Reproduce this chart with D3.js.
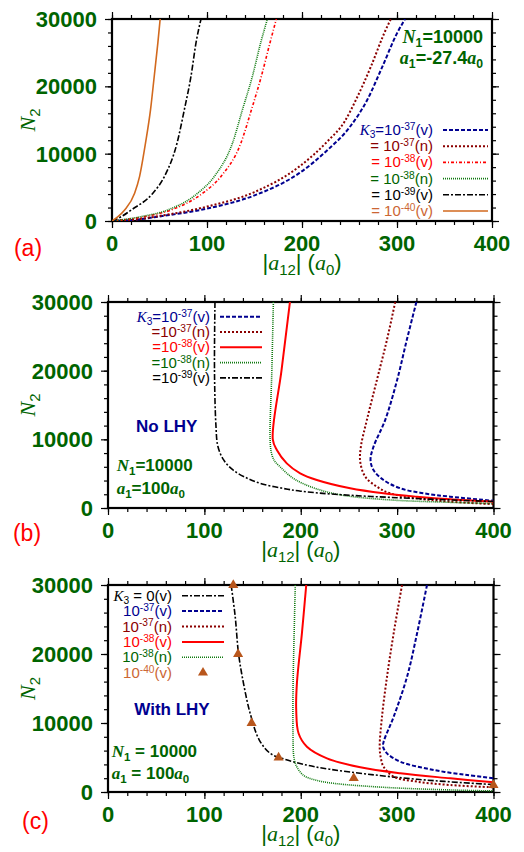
<!DOCTYPE html>
<html><head><meta charset="utf-8">
<script src="https://cdn.jsdelivr.net/npm/d3@7"></script>
<style>
body{margin:0;background:#fff;}
svg{font-family:"Liberation Sans",Arial,sans-serif;}
</style></head><body>
<svg id="chart" width="524" height="852"></svg>
<script>
var xTicks = [0,100,200,300,400];
var yTicks = [0,10000,20000,30000];

// panel (a): N1=10000, a1=-27.4a0
var a37v = [[0,0],[25,200],[50,680],[100,1840],[150,3800],[197,7100],[226.6,10500],[250,13900],[268.6,17970],[284.6,22920],[300,27870],[308.5,30000]];
var a37n = [[0,0],[25,230],[50,750],[100,2140],[150,4300],[197,8070],[226.6,11800],[245,14800],[256.7,17970],[272.5,22920],[286.5,27870],[293.5,30000]];
var a38v = [[0,0],[34.3,650],[62.2,1640],[95.5,4130],[114.7,6620],[135.7,11590],[146.9,16570],[157.3,21540],[166.4,26520],[173,30000]];
var a38n = [[0,0],[30.8,650],[58.7,1640],[90.2,4130],[107.7,6620],[126.9,11590],[137.4,16570],[147.9,21540],[156.6,26520],[163.6,30000]];
var a39v = [[0,0],[9.8,650],[20.3,1640],[43,4130],[55.2,6620],[68.5,11590],[76.2,16570],[83.2,21540],[88.5,26520],[93.7,30000]];
var a40v = [[0,0],[6.3,650],[13.3,1640],[23.8,4130],[29,6600],[35.3,11600],[40.6,16570],[44.5,21540],[48.3,26500],[50.7,30000]];

// panel (b): no LHY
var b37v = [[320,30000],[310,24460],[300,18640],[287.6,12810],[275.5,8930],[272.4,6990],[275.5,5530],[285.9,4080],[303.2,2870],[327.4,2140],[355,1650],[400,1050]];
var b37n = [[298,30000],[289.4,24460],[279,18640],[268.6,12810],[262.4,8930],[261.7,6740],[266.9,4560],[279,3100],[292.8,2140],[320.5,1410],[355,920],[400,560]];
var b38v = [[188.8,30000],[180,20000],[171,10000],[175.2,8440],[185.5,6500],[199.4,5050],[216.7,4080],[251.3,2870],[285.9,2140],[320.5,1650],[355,1260],[400,900]];
var b38n = [[171.6,30000],[170,20000],[168.2,10000],[169.6,8000],[173,6800],[178.6,6000],[186,5000],[195,4080],[214.6,2870],[242,1890],[294,1165],[350,850],[400,650]];
var b39v = [[111,30000],[110.5,20000],[112,12000],[114,9000],[120,7000],[130,5500],[145,4300],[160,3500],[180,2900],[200,2450],[240,1950],[300,1500],[350,1200],[400,950]];

// panel (c): with LHY
var c0v  = [[127.8,30000],[132,25400],[135.4,20100],[140.6,15750],[147.5,11400],[157,7530],[168.3,5600],[180,4900],[206,3900],[230,3300],[268.8,2600],[320.7,1840],[390,1160],[400,1100]];
var c37v = [[331,30000],[320.7,23000],[310.3,16700],[296.4,10900],[286,7290],[285.4,6560],[289.5,5600],[303.4,4390],[338,3190],[372.7,2460],[400,1980]];
var c37n = [[305.1,30000],[296.4,23000],[289.5,16700],[284.3,10900],[281.9,6560],[283,5000],[285.9,3670],[296.4,2220],[320.7,1500],[355.3,1010],[400,680]];
var c38v = [[205.7,30000],[201.2,23000],[196,15750],[195.3,11880],[197.7,8510],[206.4,6560],[227.2,4880],[261.8,3580],[303.4,2710],[355.3,1980],[400,1400]];
var c38n = [[194.3,30000],[193,22000],[192,15000],[192,8000],[192.5,5500],[194,4300],[196.5,3500],[203,2400],[216,1700],[234,1260],[286,680],[355,300],[400,150]];
var c40v = [[130,30000],[135,20000],[149,10000],[177,5000],[255,2000],[400,1000]];

var NAVY = "#000090", DRED = "#8b0000", RED = "#ff0000", GREEN = "#006400",
    LGREEN = "#107a10", ORANGE = "#d2691e", TRI = "#b8561c";

var styles = {
  v37: {color: NAVY, dash: "4,2", w: 2},
  n37: {color: DRED, dash: "2,2", w: 2},
  v38a: {color: RED, dash: "3,2,1,2", w: 1.6},
  v38: {color: RED, dash: null, w: 2},
  n38: {color: LGREEN, dash: "1,1", w: 1.6},
  v39: {color: "#000", dash: "6,2,2,2", w: 1.6},
  v40: {color: ORANGE, dash: null, w: 1.6},
  v0: {color: "#000", dash: "6,2,2,2", w: 1.6}
};

var svg = d3.select("#chart");

function rich(sel, segs, size) {
  var shift = 0;
  segs.forEach(function (s) {
    var kind = s[1] || "";
    var target = kind == "sub" ? size * 0.22 : kind == "sup" ? -size * 0.34 : 0;
    var ts = sel.append("tspan").text(s[0]).attr("dy", target - shift);
    shift = target;
    if (kind == "sub" || kind == "sup") ts.attr("font-size", size * 0.68);
    if (kind == "i") ts.attr("font-family", "Liberation Serif, serif").attr("font-style", "italic");
  });
}

function panel(p) {
  var x = d3.scaleLinear().domain([0, 400]).range([p.left, p.right]);
  var y = d3.scaleLinear().domain([0, 30000]).range([p.bottom, p.top]);
  var g = svg.append("g");

  var clipId = "clip" + p.name;
  g.append("clipPath").attr("id", clipId).append("rect")
    .attr("x", p.left).attr("y", p.top)
    .attr("width", p.right - p.left).attr("height", p.bottom - p.top);

  // ticks on all four sides, pointing out
  var minorX = d3.range(0, 401, 20), minorY = d3.range(0, 30001, 2000);
  [[minorX, minorY, 4], [xTicks, yTicks, 7]].forEach(function (t) {
    g.append("g").attr("transform", "translate(0," + p.bottom + ")")
      .call(d3.axisBottom(x).tickValues(t[0]).tickFormat("").tickSize(t[2]).tickSizeOuter(0));
    g.append("g").attr("transform", "translate(0," + p.top + ")")
      .call(d3.axisTop(x).tickValues(t[0]).tickFormat("").tickSize(t[2]).tickSizeOuter(0));
    g.append("g").attr("transform", "translate(" + p.left + ",0)")
      .call(d3.axisLeft(y).tickValues(t[1]).tickFormat("").tickSize(t[2]).tickSizeOuter(0));
    g.append("g").attr("transform", "translate(" + p.right + ",0)")
      .call(d3.axisRight(y).tickValues(t[1]).tickFormat("").tickSize(t[2]).tickSizeOuter(0));
  });
  g.selectAll(".tick line").attr("stroke", "#000").attr("stroke-width", 1.2);
  g.selectAll(".domain").remove();

  g.append("rect").attr("x", p.left).attr("y", p.top)
    .attr("width", p.right - p.left).attr("height", p.bottom - p.top)
    .attr("fill", "none").attr("stroke", "#000").attr("stroke-width", 2.2);

  // tick labels
  g.selectAll(".xl").data(xTicks).enter().append("text")
    .attr("x", function (d) { return x(d); }).attr("y", p.bottom + 30)
    .attr("text-anchor", "middle").attr("font-size", 22).attr("font-weight", "bold")
    .attr("fill", GREEN).text(function (d) { return d; });
  g.selectAll(".yl").data(yTicks).enter().append("text")
    .attr("x", p.left - 15).attr("y", function (d) { return y(d) + 8; })
    .attr("text-anchor", "end").attr("font-size", 22).attr("font-weight", "bold")
    .attr("fill", GREEN).text(function (d) { return d; });

  // axis titles
  var xt = g.append("text").attr("x", (p.left + p.right) / 2).attr("y", p.bottom + 49)
    .attr("text-anchor", "middle").attr("font-size", 22).attr("fill", GREEN);
  rich(xt, [["|"], ["a", "i"], ["12", "sub"], ["| ("], ["a", "i"], ["0", "sub"], [")"]], 22);
  var yt = g.append("text").attr("transform", "translate(35," + (p.top + p.bottom) / 2 + ") rotate(-90)")
    .attr("text-anchor", "middle").attr("font-size", 22).attr("fill", GREEN);
  rich(yt, [["N", "i"], ["2", "sub"]], 22);

  g.append("text").attr("x", p.labX).attr("y", p.labY).attr("text-anchor", "middle")
    .attr("font-size", 23).attr("fill", RED).text(p.label);

  var line = d3.line().x(function (d) { return x(d[0]); }).y(function (d) { return y(d[1]); })
    .curve(p.mono ? d3.curveMonotoneX : d3.curveCatmullRom.alpha(0.5));

  var curves = g.append("g").attr("clip-path", "url(#" + clipId + ")");
  p.series.forEach(function (s) {
    if (s.tri) return;
    var st = styles[s.style];
    curves.append("path").datum(s.data).attr("d", line)
      .attr("fill", "none").attr("stroke", st.color).attr("stroke-width", st.w)
      .attr("stroke-dasharray", st.dash);
  });
  p.series.forEach(function (s) {
    if (!s.tri) return;
    g.selectAll(".tri" + p.name).data(s.data).enter().append("path")
      .attr("d", d3.symbol(d3.symbolTriangle, 44))
      .attr("transform", function (d) { return "translate(" + x(d[0]) + "," + y(d[1]) + ")"; })
      .attr("fill", TRI);
  });

  // legend
  p.series.forEach(function (s, i) {
    var ly = p.leg.y + i * p.leg.dy;
    var t = g.append("text").attr("x", p.leg.tx).attr("y", ly + 5)
      .attr("text-anchor", "end").attr("font-size", 15).attr("fill", s.tcol);
    rich(t, s.label, 15);
    if (s.tri) {
      g.append("path").attr("d", d3.symbol(d3.symbolTriangle, 44))
        .attr("transform", "translate(" + (p.leg.x0 + p.leg.x1) / 2 + "," + ly + ")").attr("fill", TRI);
    } else {
      var st = styles[s.style];
      g.append("line").attr("x1", p.leg.x0).attr("x2", p.leg.x1).attr("y1", ly).attr("y2", ly)
        .attr("stroke", st.color).attr("stroke-width", st.w).attr("stroke-dasharray", st.dash);
    }
  });

  p.notes.forEach(function (n) {
    var t = g.append("text").attr("x", n.x).attr("y", n.y).attr("text-anchor", n.anchor)
      .attr("font-size", n.size).attr("font-weight", "bold").attr("fill", n.color);
    rich(t, n.segs, n.size);
  });
}

panel({
  name: "a", left: 112, right: 492, top: 19, bottom: 221, label: "(a)", labX: 28, labY: 256, mono: true,
  leg: {y: 130, dy: 16.2, tx: 433, x0: 443, x1: 488},
  series: [
    {data: a37v, style: "v37", tcol: NAVY, label: [["K", "i"], ["3", "sub"], ["=10"], ["-37", "sup"], ["(v)"]]},
    {data: a37n, style: "n37", tcol: DRED, label: [["= 10"], ["-37", "sup"], ["(n)"]]},
    {data: a38v, style: "v38a", tcol: RED, label: [["= 10"], ["-38", "sup"], ["(v)"]]},
    {data: a38n, style: "n38", tcol: GREEN, label: [["= 10"], ["-38", "sup"], ["(n)"]]},
    {data: a39v, style: "v39", tcol: "#000", label: [["= 10"], ["-39", "sup"], ["(v)"]]},
    {data: a40v, style: "v40", tcol: "#cc6633", label: [["= 10"], ["-40", "sup"], ["(v)"]]}
  ],
  notes: [
    {x: 483, y: 43, anchor: "end", size: 18, color: GREEN, segs: [["N", "i"], ["1", "sub"], ["=10000"]]},
    {x: 483, y: 64, anchor: "end", size: 18, color: GREEN, segs: [["a", "i"], ["1", "sub"], ["=-27.4"], ["a", "i"], ["0", "sub"]]}
  ]
});

panel({
  name: "b", left: 108, right: 493.5, top: 302, bottom: 508, label: "(b)", labX: 27, labY: 541, mono: false,
  leg: {y: 316.7, dy: 15.3, tx: 210, x0: 220, x1: 262},
  series: [
    {data: b37v, style: "v37", tcol: NAVY, label: [["K", "i"], ["3", "sub"], ["=10"], ["-37", "sup"], ["(v)"]]},
    {data: b37n, style: "n37", tcol: DRED, label: [["=10"], ["-37", "sup"], ["(n)"]]},
    {data: b38v, style: "v38", tcol: RED, label: [["=10"], ["-38", "sup"], ["(v)"]]},
    {data: b38n, style: "n38", tcol: GREEN, label: [["=10"], ["-38", "sup"], ["(n)"]]},
    {data: b39v, style: "v39", tcol: "#000", label: [["=10"], ["-39", "sup"], ["(v)"]]}
  ],
  notes: [
    {x: 166.7, y: 432, anchor: "middle", size: 17, color: NAVY, segs: [["No LHY"]]},
    {x: 116.7, y: 471, anchor: "start", size: 17, color: GREEN, segs: [["N", "i"], ["1", "sub"], ["=10000"]]},
    {x: 116.7, y: 494, anchor: "start", size: 17, color: GREEN, segs: [["a", "i"], ["1", "sub"], ["=100"], ["a", "i"], ["0", "sub"]]}
  ]
});

panel({
  name: "c", left: 108, right: 493.5, top: 585, bottom: 792, label: "(c)", labX: 35.5, labY: 829, mono: false,
  leg: {y: 595.7, dy: 15.4, tx: 172, x0: 182, x1: 224},
  series: [
    {data: c0v, style: "v0", tcol: "#000", label: [["K", "i"], ["3", "sub"], [" = 0(v)"]]},
    {data: c37v, style: "v37", tcol: NAVY, label: [["10"], ["-37", "sup"], ["(v)"]]},
    {data: c37n, style: "n37", tcol: DRED, label: [["10"], ["-37", "sup"], ["(n)"]]},
    {data: c38v, style: "v38", tcol: RED, label: [["10"], ["-38", "sup"], ["(v)"]]},
    {data: c38n, style: "n38", tcol: GREEN, label: [["10"], ["-38", "sup"], ["(n)"]]},
    {data: c40v, tri: true, tcol: "#cc6633", label: [["10"], ["-40", "sup"], ["(v)"]]}
  ],
  notes: [
    {x: 172, y: 715, anchor: "middle", size: 17, color: NAVY, segs: [["With LHY"]]},
    {x: 111.7, y: 757, anchor: "start", size: 17, color: GREEN, segs: [["N", "i"], ["1", "sub"], [" = 10000"]]},
    {x: 111.7, y: 779, anchor: "start", size: 17, color: GREEN, segs: [["a", "i"], ["1", "sub"], [" = 100"], ["a", "i"], ["0", "sub"]]}
  ]
});
</script>
</body></html>
